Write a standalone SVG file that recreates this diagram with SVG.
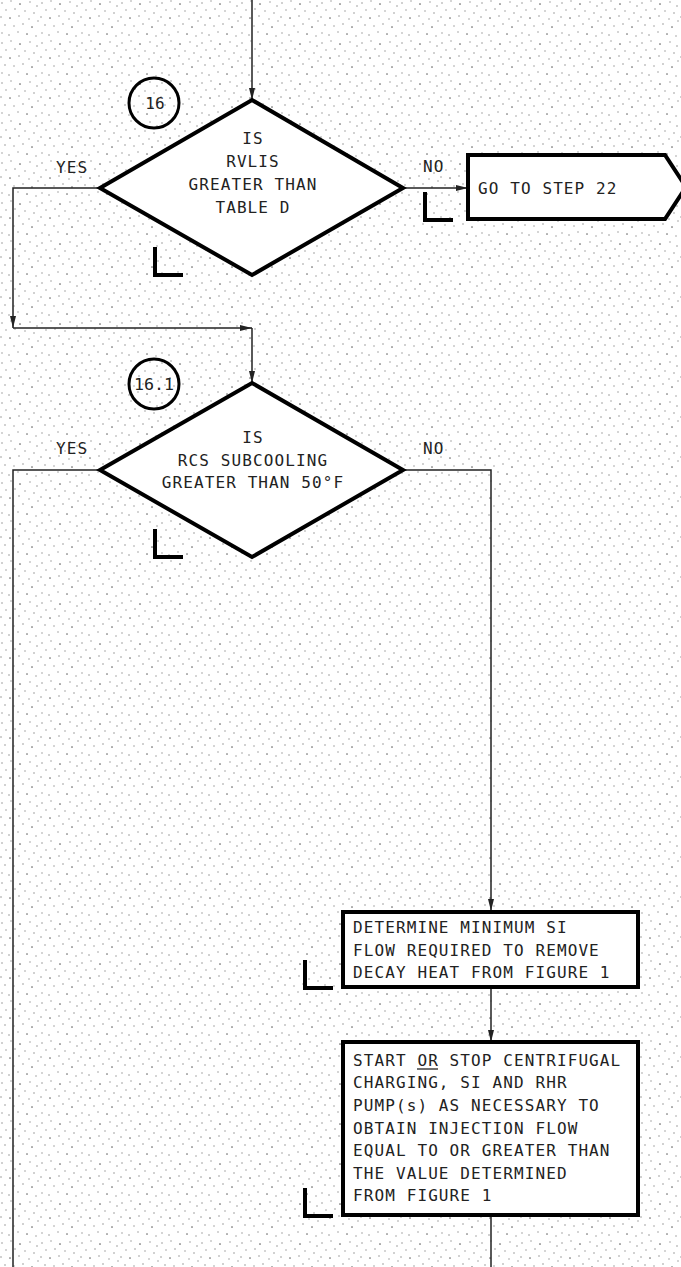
<svg xmlns="http://www.w3.org/2000/svg" width="681" height="1267" viewBox="0 0 681 1267">
<defs>
<pattern id="stipple" x="0" y="0" width="40" height="40" patternUnits="userSpaceOnUse">
<rect width="40" height="40" fill="#ffffff"/>
<g fill="#8c8c8c">
<circle cx="2" cy="3" r="0.75"/><circle cx="11" cy="1" r="0.7"/><circle cx="20" cy="4" r="0.75"/><circle cx="30" cy="2" r="0.7"/><circle cx="37" cy="6" r="0.75"/>
<circle cx="6" cy="10" r="0.7"/><circle cx="15" cy="9" r="0.75"/><circle cx="25" cy="11" r="0.7"/><circle cx="34" cy="13" r="0.75"/>
<circle cx="1" cy="17" r="0.75"/><circle cx="10" cy="18" r="0.7"/><circle cx="19" cy="16" r="0.75"/><circle cx="29" cy="19" r="0.7"/><circle cx="38" cy="21" r="0.7"/>
<circle cx="5" cy="25" r="0.75"/><circle cx="14" cy="26" r="0.7"/><circle cx="23" cy="24" r="0.75"/><circle cx="32" cy="27" r="0.75"/>
<circle cx="2" cy="33" r="0.7"/><circle cx="9" cy="35" r="0.75"/><circle cx="18" cy="32" r="0.7"/><circle cx="27" cy="34" r="0.75"/><circle cx="36" cy="36" r="0.7"/>
</g>
<g fill="#444">
<circle cx="20" cy="4" r="0.6"/><circle cx="10" cy="18" r="0.55"/><circle cx="32" cy="27" r="0.55"/><circle cx="27" cy="34" r="0.5"/>
</g>
</pattern>
<marker id="arr" markerWidth="12" markerHeight="6" refX="12" refY="3" orient="auto" markerUnits="userSpaceOnUse">
<path d="M0,0 L12,3 L0,6 Z" fill="#222"/>
</marker>
<style>
.txt{font-family:"DejaVu Sans Mono","Liberation Mono",monospace;font-size:16px;letter-spacing:1.1px;fill:#222}
.mid{text-anchor:middle}
.shape{fill:#ffffff;stroke:#000;stroke-width:4}
.circ{fill:none;stroke:#000;stroke-width:3}
.conn{fill:none;stroke:#222;stroke-width:1.5}
.chk{fill:none;stroke:#000;stroke-width:4}
.num{font-family:"DejaVu Sans Mono","Liberation Mono",monospace;font-size:16px;fill:#222;text-anchor:middle}
</style>
</defs>
<rect width="681" height="1267" fill="url(#stipple)"/>

<g id="connectors">
<path class="conn" d="M252,0 V100" marker-end="url(#arr)"/>
<path class="conn" d="M100,188 H13 V328" marker-end="url(#arr)"/>
<path class="conn" d="M13,328 H252" marker-end="url(#arr)"/>
<path class="conn" d="M252,328 V383" marker-end="url(#arr)"/>
<path class="conn" d="M403,188 H468" marker-end="url(#arr)"/>
<path class="conn" d="M100,470 H13 V1267"/>
<path class="conn" d="M403,470 H491 V911" marker-end="url(#arr)"/>
<path class="conn" d="M491,987 V1042" marker-end="url(#arr)"/>
<path class="conn" d="M491,1215 V1267"/>
<text class="txt" x="56" y="173">YES</text>
<text class="txt" x="423" y="172">NO</text>
<text class="txt" x="56" y="454">YES</text>
<text class="txt" x="423" y="454">NO</text>
</g>

<g id="step16">
<circle class="circ" cx="154" cy="103" r="25"/>
<text class="num" x="155" y="109">16</text>
<path class="shape" d="M252,100 L403,188 L252,275 L100,188 Z"/>
<text class="txt mid" x="253" y="144">IS</text>
<text class="txt mid" x="253" y="167">RVLIS</text>
<text class="txt mid" x="253" y="190">GREATER THAN</text>
<text class="txt mid" x="253" y="213">TABLE D</text>
<path class="chk" d="M155,247 V275 H183"/>
</g>

<g id="goto22">
<path class="shape" d="M468,155 H665 L686,187 L665,219 H468 Z"/>
<text class="txt" x="478" y="194">GO TO STEP 22</text>
<path class="chk" d="M425,192 V220 H453"/>
</g>

<g id="step16_1">
<circle class="circ" cx="154" cy="384" r="25"/>
<text class="num" x="154" y="390" textLength="40" lengthAdjust="spacingAndGlyphs">16.1</text>
<path class="shape" d="M252,383 L403,470 L252,557 L100,470 Z"/>
<text class="txt mid" x="253" y="443">IS</text>
<text class="txt mid" x="253" y="466">RCS SUBCOOLING</text>
<text class="txt mid" x="253" y="488">GREATER THAN 50°F</text>
<path class="chk" d="M155,529 V557 H183"/>
</g>

<g id="determine">
<rect class="shape" x="343" y="912" width="295" height="75"/>
<text class="txt" x="353" y="933">DETERMINE MINIMUM SI</text>
<text class="txt" x="353" y="956">FLOW REQUIRED TO REMOVE</text>
<text class="txt" x="353" y="978">DECAY HEAT FROM FIGURE 1</text>
<path class="chk" d="M305,960 V988 H333"/>
</g>

<g id="startstop">
<rect class="shape" x="343" y="1042" width="295" height="173"/>
<text class="txt" x="353" y="1066">START OR STOP CENTRIFUGAL</text>
<line x1="417" y1="1069" x2="438" y2="1069" stroke="#222" stroke-width="1.3"/>
<text class="txt" x="353" y="1088">CHARGING, SI AND RHR</text>
<text class="txt" x="353" y="1111">PUMP(s) AS NECESSARY TO</text>
<text class="txt" x="353" y="1134">OBTAIN INJECTION FLOW</text>
<text class="txt" x="353" y="1156">EQUAL TO OR GREATER THAN</text>
<text class="txt" x="353" y="1179">THE VALUE DETERMINED</text>
<text class="txt" x="353" y="1201">FROM FIGURE 1</text>
<path class="chk" d="M305,1188 V1216 H333"/>
</g>
</svg>
